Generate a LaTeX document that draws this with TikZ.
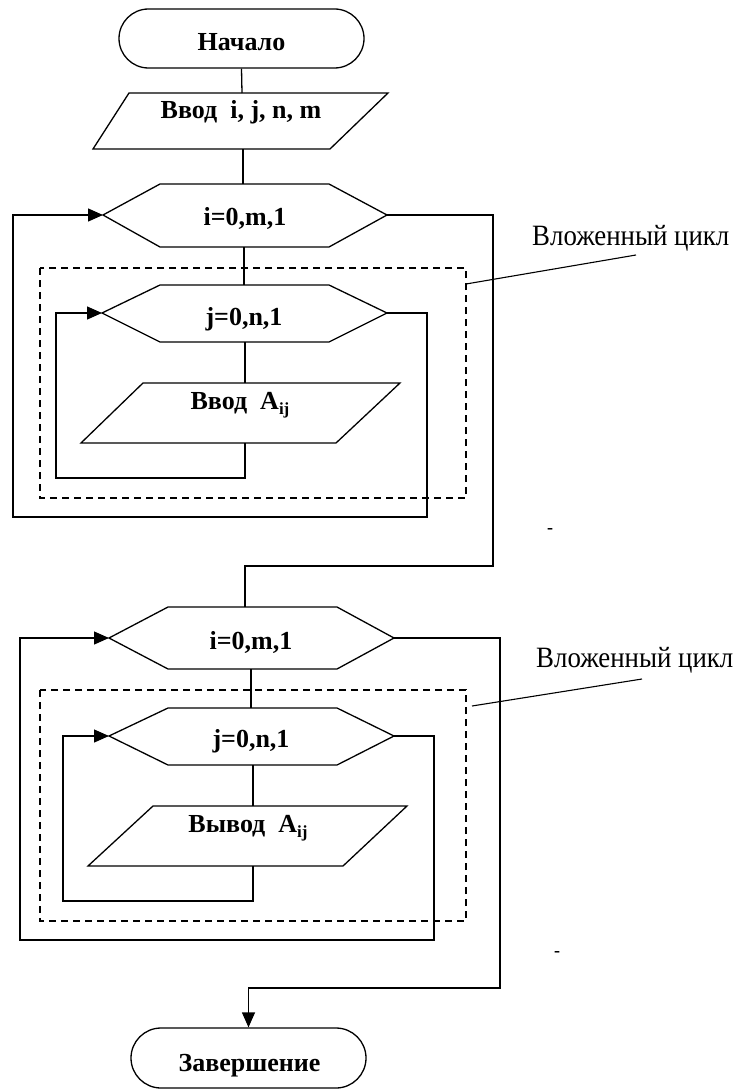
\documentclass[tikz,border=0pt]{standalone}
\usepackage{fontspec}
\setmainfont{Liberation Serif}
\usetikzlibrary{arrows.meta,shapes.misc,calc}
\begin{document}
\begin{tikzpicture}[x=1pt,y=-1pt,
  ln/.style={line width=1.3pt, line join=miter},
  shp/.style={line width=1.3pt, line join=miter},
  txt/.style={font=\fontsize{26}{26}\selectfont\bfseries, inner sep=0pt, anchor=base},
  term/.style={draw, line width=1.3pt, rounded rectangle, inner sep=0pt},
  arr/.style={ln, -{Triangle[length=15pt,width=13pt]}},
  frame/.style={line width=1.1pt, dash pattern=on 7pt off 5pt},
  lbl/.style={font=\fontsize{29.5}{29.5}\selectfont, inner sep=0pt, anchor=base west},
  dashmark/.style={font=\fontsize{18}{18}\selectfont\bfseries, inner sep=0pt},
]
\useasboundingbox (0,0) rectangle (736,1089);
\newcommand\ijsub{\raisebox{-0.22em}{\fontsize{17}{17}\selectfont ij}}
\newcommand\narrowtext[1]{\scalebox{0.91}[1]{#1}}

% ---------- start ----------
\node[term, minimum width=245pt, minimum height=59pt] (start) at (241.5,38.5) {};
\node[txt] (startt) at (241.5,51) {Начало};

% ---------- input 1 ----------
\draw[shp] (129,93) -- (388,93) -- (330,149) -- (93,149) -- cycle;
\coordinate (p1n) at (242,93);
\coordinate (p1s) at (243,149);
\node[txt] (p1t) at (241,119) {Ввод\ \ i, j, n, m};

% ---------- hex 1 ----------
\draw[shp] (103,215) -- (160,184) -- (329,184) -- (387,215) -- (329,247) -- (160,247) -- cycle;
\coordinate (h1w) at (103,215);
\coordinate (h1e) at (387,215);
\coordinate (h1n) at (243,184);
\coordinate (h1s) at (244,247);
\node[txt] (h1t) at (245,225) {i=0,m,1};

% ---------- hex 2 ----------
\draw[shp] (102,313) -- (160,285) -- (329,285) -- (387,313) -- (329,342) -- (160,342) -- cycle;
\coordinate (h2w) at (102,313);
\coordinate (h2e) at (387,313);
\coordinate (h2n) at (244,285);
\coordinate (h2s) at (245,342);
\node[txt] (h2t) at (244,325) {j=0,n,1};

% ---------- input 2 ----------
\draw[shp] (143,383) -- (400,383) -- (336,443) -- (81,443) -- cycle;
\coordinate (p2n) at (245,383);
\coordinate (p2s) at (245,443);
\node[txt] (p2t) at (240,409) {Ввод\ \ A\ijsub};

% ---------- loop 1 connectors ----------
\coordinate (c1a) at (56,478);
\coordinate (c1b) at (427,517);
\coordinate (c1c) at (493,566);
\draw[ln] (start.south) -- (p1n);
\draw[ln] (p1s) -- (h1n);
\draw[ln] (h1s) -- (h2n);
\draw[ln] (h2s) -- (p2n);
\draw[arr] (p2s) -- (p2s |- c1a) -- (c1a) -- (c1a |- h2w) -- (h2w);
\draw[arr] (h2e) -- (c1b |- h2e) -- (c1b) -- (13,517) -- (13,215) -- (h1w);

% dashed frame 1 and label
\draw[frame] (40,268) rectangle (466,498);
\coordinate (f1) at (466,284);
\coordinate (l1) at (636,255);
\draw[line width=1.1pt] (f1) -- (l1);
\node[lbl] (lab1) at (532,245) {\narrowtext{Вложенный цикл}};
\node[dashmark] (d1) at (550,531) {-};

% ---------- hex 3 ----------
\draw[shp] (109,638) -- (168,607) -- (337,607) -- (394,638) -- (337,669) -- (168,669) -- cycle;
\coordinate (h3w) at (109,638);
\coordinate (h3e) at (394,638);
\coordinate (h3n) at (245,607);
\coordinate (h3s) at (251,669);
\node[txt] (h3t) at (251,649) {i=0,m,1};

\draw[ln] (h1e) -- (c1c |- h1e) -- (c1c) -- (h3n |- c1c) -- (h3n);

% ---------- hex 4 ----------
\draw[shp] (109,736) -- (168,708) -- (337,708) -- (394,736) -- (337,765) -- (168,765) -- cycle;
\coordinate (h4w) at (109,736);
\coordinate (h4e) at (394,736);
\coordinate (h4n) at (251,708);
\coordinate (h4s) at (253,765);
\node[txt] (h4t) at (251,747) {j=0,n,1};

% ---------- output ----------
\draw[shp] (153,806) -- (407,806) -- (343,866) -- (88,866) -- cycle;
\coordinate (p4n) at (253,806);
\coordinate (p4s) at (253,866);
\node[txt] (p4t) at (248,832) {Вывод\ \ A\ijsub};

% ---------- end ----------
\node[term, minimum width=235pt, minimum height=60pt] (stop) at (248.5,1058) {};
\node[txt] (stopt) at (249.5,1071) {Завершение};

% ---------- loop 2 connectors ----------
\coordinate (c2a) at (63,901);
\coordinate (c2b) at (434,940);
\coordinate (c2c) at (500,988);
\draw[ln] (h3s) -- (h4n);
\draw[ln] (h4s) -- (p4n);
\draw[arr] (p4s) -- (p4s |- c2a) -- (c2a) -- (c2a |- h4w) -- (h4w);
\draw[arr] (h4e) -- (c2b |- h4e) -- (c2b) -- (20,940) -- (20,638) -- (h3w);
\draw[arr] (h3e) -- (c2c |- h3e) -- (c2c) -- (stop.north |- c2c) -- (stop.north);

% dashed frame 2 and label
\draw[frame] (40,690) rectangle (466,921);
\coordinate (f2) at (472,706);
\coordinate (l2) at (642,679);
\draw[line width=1.1pt] (f2) -- (l2);
\node[lbl] (lab2) at (536,667) {\narrowtext{Вложенный цикл}};
\node[dashmark] (d2) at (557,954) {-};
\end{tikzpicture}
\end{document}
